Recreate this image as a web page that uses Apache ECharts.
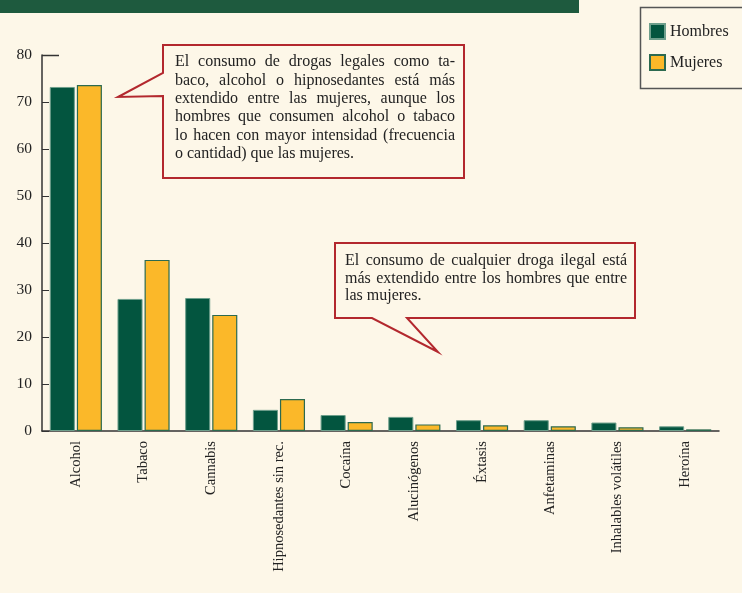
<!DOCTYPE html>
<html>
<head>
<meta charset="utf-8">
<script src="https://cdn.jsdelivr.net/npm/echarts@6/dist/echarts.min.js"></script>
<style>
html,body{margin:0;padding:0;background:#FDF7E8;}
#chart{width:742px;height:593px;}
</style>
</head>
<body>
<div id="chart"></div>
<script>
const categories = ['Alcohol','Tabaco','Cannabis','Hipnosedantes sin rec.','Cocaína','Alucinógenos','Éxtasis','Anfetaminas','Inhalables volátiles','Heroína'];
const hombres = [73.2, 28.1, 28.3, 4.5, 3.4, 3.0, 2.3, 2.3, 1.8, 1.0];
const mujeres = [73.6, 36.4, 24.7, 6.8, 1.9, 1.4, 1.2, 1.0, 0.8, 0.35];
const yTicks = [0, 10, 20, 30, 40, 50, 60, 70, 80];

const callout1 = ['El consumo de drogas legales como ta-','baco, alcohol o hipnosedantes está más','extendido entre las mujeres, aunque los','hombres que consumen alcohol o tabaco','lo hacen con mayor intensidad (frecuencia','o cantidad) que las mujeres.'];
const callout2 = ['El consumo de cualquier droga ilegal está','más extendido entre los hombres que entre','las mujeres.'];

const serif = '"Liberation Serif", "DejaVu Serif", serif';
const red = '#B3282E';
const green = '#03553F';
const yellow = '#FBB829';
const bg = '#FDF7E8';

const chart = echarts.init(document.getElementById('chart'));

const canvas = document.createElement('canvas');
const ctx = canvas.getContext('2d');

function justified(lines, x, y0, lh, width, fontSize, out){
  const font = fontSize + 'px ' + serif;
  ctx.font = font;
  lines.forEach((line, i) => {
    const y = y0 + i * lh;
    const words = line.split(' ');
    const last = i === lines.length - 1;
    if (last || words.length < 2) {
      out.push({type:'text', x:x, y:y, style:{text:line, font:font, fill:'#222'}});
      return;
    }
    const ww = words.map(w => ctx.measureText(w).width);
    const total = ww.reduce((a,b)=>a+b,0);
    const gap = (width - total) / (words.length - 1);
    let cx = x;
    words.forEach((w, j) => {
      out.push({type:'text', x:cx, y:y, style:{text:w, font:font, fill:'#222'}});
      cx += ww[j] + gap;
    });
  });
}

const graphics = [
  {type:'rect', shape:{x:0,y:0,width:579,height:13}, style:{fill:'#1E5A3E'}},
  {type:'line', shape:{x1:42,y1:55.5,x2:59,y2:55.5}, style:{stroke:'#333',lineWidth:1.5}},
  {type:'polygon', shape:{points:[[163,45],[464,45],[464,178],[163,178],[163,96],[118,97],[163,73]]}, style:{fill:bg,stroke:red,lineWidth:2}},
  {type:'polygon', shape:{points:[[335,243],[635,243],[635,318],[407,318],[438,352],[372,318],[335,318]]}, style:{fill:bg,stroke:red,lineWidth:2}}
];
justified(callout1, 175, 54, 18.4, 280, 16, graphics);
justified(callout2, 345, 253, 17.6, 282, 16, graphics);
graphics.push({type:'rect', shape:{x:640.5,y:7.5,width:110,height:81}, style:{fill:'none',stroke:'#555',lineWidth:1.5}});

chart.setOption({
  backgroundColor:bg,
  animation:false,
  grid:{left:42,right:23,top:55,bottom:162},
  legend:{
    left:649, top:23, orient:'vertical', itemWidth:15, itemHeight:15, itemGap:14,
    icon:'rect',
    textStyle:{fontFamily:serif, fontSize:16, color:'#222'},
    data:['Hombres','Mujeres'], padding:0
  },
  xAxis:{
    type:'category', data:categories,
    axisLine:{lineStyle:{color:'#333',width:1.5}},
    axisTick:{show:false},
    axisLabel:{rotate:90, interval:0, fontFamily:serif, fontSize:14.5, color:'#222', margin:10}
  },
  yAxis:{
    type:'value', min:0, max:80, interval:10,
    axisLine:{show:true, lineStyle:{color:'#333',width:1.5}},
    axisTick:{show:true, inside:true, length:7, lineStyle:{color:'#333'}},
    splitLine:{show:false},
    axisLabel:{fontFamily:serif, fontSize:15.5, color:'#222', margin:10,
      formatter:v=>yTicks.includes(v)?String(v):''}
  },
  series:[
    {name:'Hombres', type:'bar', data:hombres, barGap:'8%', barCategoryGap:'23%',
     itemStyle:{color:green, borderColor:'#6E9F8C', borderWidth:1}},
    {name:'Mujeres', type:'bar', data:mujeres,
     itemStyle:{color:yellow, borderColor:'#2C6A50', borderWidth:1.2}}
  ],
  graphic:graphics
});
</script>
</body>
</html>
